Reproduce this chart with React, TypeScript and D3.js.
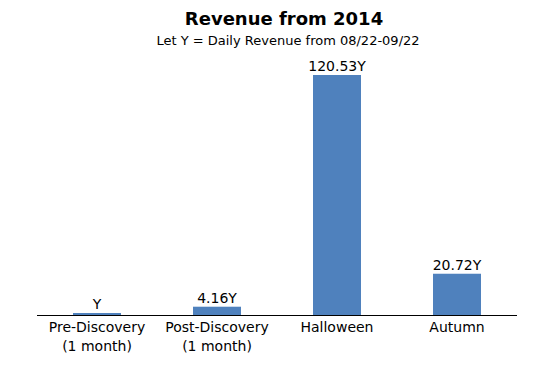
import React from "react";
import * as d3 from "d3";

const categories = ["Pre-Discovery\n(1 month)", "Post-Discovery\n(1 month)", "Halloween", "Autumn"];
const values = [1, 4.16, 120.53, 20.72];
const valueLabels = ["Y", "4.16Y", "120.53Y", "20.72Y"];
const title = "Revenue from 2014";
const subtitle = "Let Y = Daily Revenue from 08/22-09/22";

export default function App() {
  const W = 548, H = 379;
  const x = d3.scaleBand<string>().domain(categories).range([37, 517]).paddingInner(0.6).paddingOuter(0.3);
  const y = d3.scaleLinear().domain([0, 120.53]).range([315, 75]);
  const font = "'DejaVu Sans', Verdana, sans-serif";
  return (
    <svg width={W} height={H} style={{ position: "absolute", left: 0, top: 0 }} fontFamily={font}>
      <rect width={W} height={H} fill="#fff" />
      <text x={284} y={25} textAnchor="middle" fontSize={18} fontWeight="bold">{title}</text>
      <text x={288} y={45} textAnchor="middle" fontSize={13}>{subtitle}</text>
      {categories.map((c, i) => {
        const bx = x(c)!;
        const bw = x.bandwidth();
        const top = y(values[i]);
        const cx = bx + bw / 2;
        return (
          <g key={c}>
            <rect x={bx} y={top} width={bw} height={y(0) - top} fill="#4f81bd" />
            <text x={cx} y={top - 4} textAnchor="middle" fontSize={14}>{valueLabels[i]}</text>
            {c.split("\n").map((line, j) => (
              <text key={j} x={cx} y={332 + j * 19} textAnchor="middle" fontSize={14}>{line}</text>
            ))}
          </g>
        );
      })}
      <line x1={37} x2={517} y1={315.5} y2={315.5} stroke="#000" strokeWidth={1} />
    </svg>
  );
}
